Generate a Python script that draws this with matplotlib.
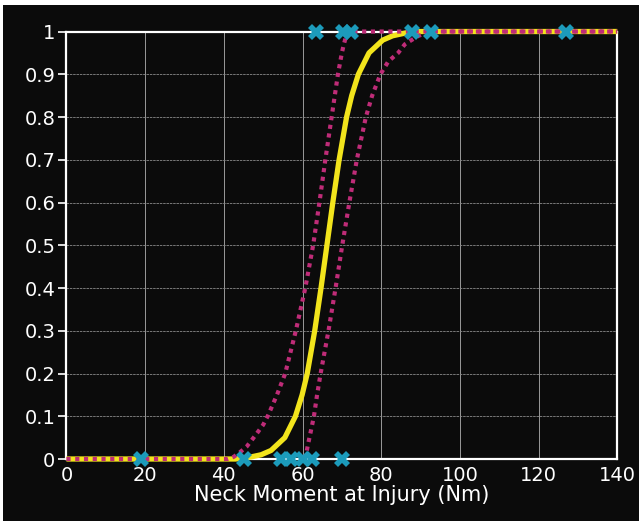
import matplotlib.pyplot as plt
from matplotlib.patches import Rectangle

# Fitted probability curve
fit_x = [0, 43, 47, 49.5, 52, 55.5, 58.2, 59.9, 61.2, 63.1, 64.7, 66.2, 67.7,
         69.3, 71.2, 72.5, 74.2, 76.9, 80.4, 82.9, 85.4, 88, 140]
fit_y = [0, 0, 0.005, 0.01, 0.02, 0.05, 0.1, 0.15, 0.2, 0.3, 0.4, 0.5, 0.6,
         0.7, 0.8, 0.85, 0.9, 0.95, 0.98, 0.99, 0.995, 1, 1]

# Lower confidence bound (left dotted curve)
low_x = [0, 41, 42.5, 44, 45.8, 47, 48.4, 50, 51.3, 53.5, 55.6, 58.3, 60.7, 62.7,
         64.3, 65.8, 67.4, 69.0, 69.6, 70.0, 70.5, 70.8, 71.1, 71.4, 140]
low_y = [0, 0, 0.005, 0.015, 0.029, 0.043, 0.06, 0.08, 0.103, 0.15, 0.2, 0.3, 0.4,
         0.5, 0.6, 0.7, 0.8, 0.9, 0.93, 0.95, 0.97, 0.98, 0.99, 1, 1]

# Upper confidence bound (right dotted curve)
up_x = [60.5, 61.0, 61.3, 62.0, 62.9, 63.7, 64.6, 66.6, 68.4, 70.1, 71.9, 73.8,
        76.1, 77.7, 79.8, 81.8, 84.3, 86.0, 87.7, 89.5, 91, 93, 140]
up_y = [0, 0.015, 0.03, 0.06, 0.1, 0.15, 0.2, 0.3, 0.4, 0.5, 0.6, 0.7,
        0.8, 0.85, 0.9, 0.93, 0.95, 0.97, 0.98, 0.99, 0.995, 1, 1]

# Observed cases: no injury (0) and injury (1)
no_injury = [19, 45, 54.5, 57, 60, 62.5, 70]
injury = [63.5, 70.4, 72.4, 87.9, 92.7, 127]

x_ticks = [0, 20, 40, 60, 80, 100, 120, 140]
y_ticks = [0, 0.1, 0.2, 0.3, 0.4, 0.5, 0.6, 0.7, 0.8, 0.9, 1]
y_labels = ['0', '0.1', '0.2', '0.3', '0.4', '0.5', '0.6', '0.7', '0.8', '0.9', '1']

bg = '#0b0b0b'
fig = plt.figure(figsize=(6.39, 5.21), dpi=100, facecolor=bg)
# thin white edge at top and left, like the scan
fig.patches.append(Rectangle((0, 0.991), 1, 0.009, transform=fig.transFigure,
                             facecolor='white', edgecolor='none'))
fig.patches.append(Rectangle((0, 0), 0.005, 1, transform=fig.transFigure,
                             facecolor='white', edgecolor='none'))
ax = fig.add_axes([0.104, 0.119, 0.862, 0.8205])
ax.set_facecolor(bg)

ax.plot(fit_x, fit_y, color='#f2e41c', lw=3.8, solid_capstyle='butt', zorder=3,
        clip_on=False)
ax.plot(low_x, low_y, color='#bf2c78', lw=3, linestyle=(0, (1, 1.1)), zorder=4,
        clip_on=False)
ax.plot(up_x, up_y, color='#bf2c78', lw=3, linestyle=(0, (1, 1.1)), zorder=4,
        clip_on=False)

ax.plot(no_injury, [0] * len(no_injury), linestyle='none', marker='X',
        markersize=11.5, color='#1c9bbb', markeredgewidth=0, zorder=5, clip_on=False)
ax.plot(injury, [1] * len(injury), linestyle='none', marker='X',
        markersize=11.5, color='#1c9bbb', markeredgewidth=0, zorder=5, clip_on=False)

ax.set_xlim(0, 140)
ax.set_ylim(0, 1)
ax.set_xticks(x_ticks)
ax.set_yticks(y_ticks)
ax.set_yticklabels(y_labels)
ax.grid(True, axis='x', color='#b0b0b0', lw=0.6)
ax.grid(True, axis='y', color='#8a8a8a', lw=0.6, linestyle=(0, (3, 1)))
ax.set_axisbelow(True)
for s in ax.spines.values():
    s.set_color('white')
    s.set_linewidth(1.6)
    s.set_zorder(2)

ax.tick_params(axis='y', colors='white', length=6, width=1.2, labelsize=14, pad=2)
ax.tick_params(axis='x', colors='white', length=0, labelsize=14, pad=5)
ax.set_xlabel('Neck Moment at Injury (Nm)', color='white', fontsize=15, labelpad=0)

plt.savefig('out.png', dpi=100, facecolor=fig.get_facecolor())
